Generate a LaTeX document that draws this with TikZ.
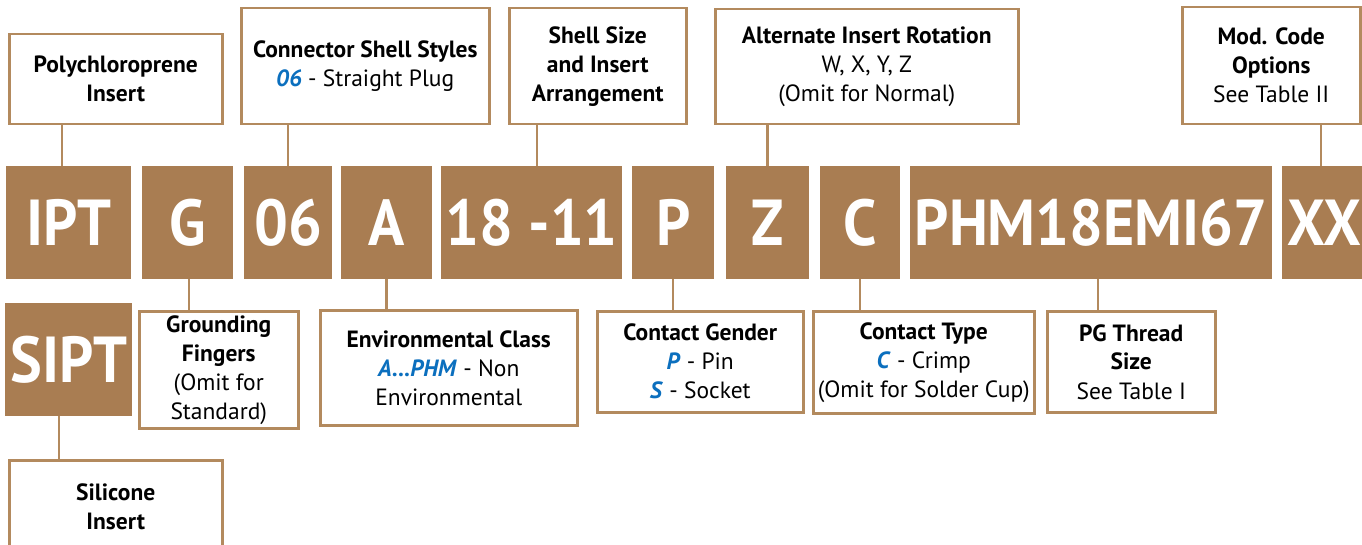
\documentclass[tikz,border=0pt]{standalone}
\usepackage{fontspec}
\setmainfont{PT Sans}
\newfontfamily\codefont[FakeStretch=0.92]{PT Sans}
\usetikzlibrary{positioning}
\definecolor{Tan}{HTML}{A97D52}
\definecolor{TanLine}{HTML}{B38A5E}
\definecolor{CodeBlue}{HTML}{0B6FBE}
\newcommand{\hl}[1]{\textcolor{CodeBlue}{\textbf{\textit{#1}}}}

\begin{document}
\begin{tikzpicture}[x=1pt,y=-1pt,
    code/.style={anchor=north west,fill=Tan,text=white,inner sep=0pt,
                 font=\codefont\fontsize{65}{65}\selectfont\bfseries},
    info/.style={anchor=north west,draw=TanLine,line width=2.5pt,fill=white,
                 inner sep=0pt,align=center,font=\fontsize{23.5}{29}\selectfont},
    link/.style={draw=TanLine,line width=2.5pt}]
    \useasboundingbox[fill=white] (0,0) rectangle (1362,545);
    % part number row
    \node[code,minimum width=125,minimum height=113] (ipt) at (6,166) {IPT};
    \node[code,minimum width=91,minimum height=113] (grd) at (142,166) {G};
    \node[code,minimum width=88,minimum height=113] (shl) at (244,166) {06};
    \node[code,minimum width=91,minimum height=113] (env) at (341,166) {A};
    \node[code,minimum width=181,minimum height=113] (arr) at (441,166) {18 -11};
    \node[code,minimum width=82,minimum height=113] (gen) at (632,166) {P};
    \node[code,minimum width=83,minimum height=113] (rot) at (726,166) {Z};
    \node[code,minimum width=80,minimum height=113] (typ) at (820,166) {C};
    \node[code,minimum width=362,minimum height=113] (thr) at (910,166) {PHM18EMI67};
    \node[code,minimum width=84,minimum height=113] (mod) at (1282,166) {XX};
    \node[code,minimum width=127,minimum height=113] (sipt) at (5,303) {SIPT};
    % upper notes
    \node[info,minimum width=213,minimum height=90] (polyN) at (8,33)
      {\textbf{Polychloroprene}\\\textbf{Insert}};
    \node[info,minimum width=248,minimum height=116] (shlN) at (240,7)
      {\textbf{Connector Shell Styles}\\\hl{06} - Straight Plug};
    \node[info,minimum width=177,minimum height=116] (arrN) at (508,7)
      {\textbf{Shell Size}\\\textbf{and Insert}\\\textbf{Arrangement}};
    \node[info,minimum width=303,minimum height=115] (rotN) at (714,8)
      {\textbf{Alternate Insert Rotation}\\W, X, Y, Z\\(Omit for Normal)};
    \node[info,minimum width=178,minimum height=117] (modN) at (1181,6)
      {\textbf{Mod. Code}\\\textbf{Options}\\See Table II};
    % lower notes
    \node[info,minimum width=159,minimum height=117] (grdN) at (138,310)
      {\textbf{Grounding}\\\textbf{Fingers}\\(Omit for\\Standard)};
    \node[info,minimum width=257,minimum height=115] (envN) at (319,309)
      {\textbf{Environmental Class}\\\hl{A...PHM} - Non\\Environmental};
    \node[info,minimum width=206,minimum height=101] (genN) at (596,310)
      {\textbf{Contact Gender}\\\hl{P} - Pin\\\hl{S} - Socket};
    \node[info,minimum width=221,minimum height=102] (typN) at (812,310)
      {\textbf{Contact Type}\\\hl{C} - Crimp\\(Omit for Solder Cup)};
    \node[info,minimum width=168,minimum height=101] (thrN) at (1046,310)
      {\textbf{PG Thread}\\\textbf{Size}\\See Table I};
    \node[info,minimum width=213,minimum height=94] (silN) at (8,459)
      {\textbf{Silicone}\\\textbf{Insert}};
    % leaders
    \draw[link] (polyN.south -| 62,0) -- (ipt.north -| 62,0);
    \draw[link] (shlN.south -| shl) -- (shl.north);
    \draw[link] (arrN.south -| 537,0) -- (arr.north -| 537,0);
    \draw[link] (rotN.south -| rot) -- (rot.north);
    \draw[link] (modN.south -| 1321,0) -- (mod.north -| 1321,0);
    \draw[link] (grd.south -| 189,0) -- (grdN.north -| 189,0);
    \draw[link] (env.south) -- (envN.north -| env);
    \draw[link] (gen.south) -- (genN.north -| gen);
    \draw[link] (typ.south) -- (typN.north -| typ);
    \draw[link] (thr.south -| 1098,0) -- (thrN.north -| 1098,0);
    \draw[link] (sipt.south -| 59,0) -- (silN.north -| 59,0);
\end{tikzpicture}
\end{document}
